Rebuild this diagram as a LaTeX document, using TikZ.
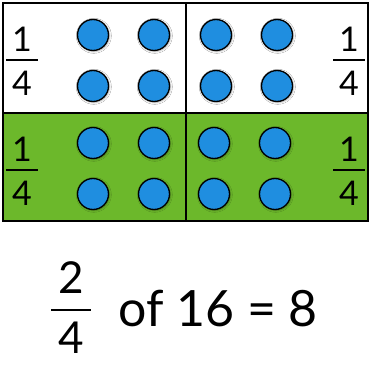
\documentclass[tikz,border=0pt]{standalone}
\usepackage{fontspec}
\setmainfont{Lato}
\usetikzlibrary{positioning,shadows.blur}
\definecolor{dotblue}{HTML}{1F8EE0}
\definecolor{quadgreen}{HTML}{6CB82B}

\begin{document}
\begin{tikzpicture}[x=1pt, y=-1pt,
  quad/.style={draw=black, line width=1.8pt, fill=#1},
  dot/.style={circle, draw=black, line width=1.3pt, fill=dotblue, minimum size=31pt, inner sep=0pt,
    blur shadow={shadow blur steps=3, shadow xshift=0.8pt, shadow yshift=-0.8pt, shadow opacity=40}},
  digit/.style={font=\fontsize{34}{34}\selectfont, inner sep=0pt},
  bigtxt/.style={font=\fontsize{50}{50}\selectfont, inner sep=0pt},
  fractxt/.style={font=\fontsize{44}{44}\selectfont, inner sep=0pt},
  bar/.style={line width=2pt}
]
  \useasboundingbox (0,0) rectangle (371,366);

  % quarters
  \draw[quad=white] (3,3) rectangle (186,113);
  \draw[quad=white] (186,3) rectangle (368,113);
  \draw[quad=quadgreen] (3,113) rectangle (186,221);
  \draw[quad=quadgreen] (186,113) rectangle (368,221);

  % counters
  \foreach \x/\n in {93/a,154/b,216/c,277/d}{
    \node[dot] (t1\n) at (\x,35) {};
    \node[dot] (t2\n) at (\x,86) {};
  }
  \foreach \x/\n in {93/a,154/b,214/c,275/d}{
    \node[dot] (b1\n) at (\x,143) {};
    \node[dot] (b2\n) at (\x,194) {};
  }

  % quarter labels
  \foreach \x/\y/\n in {22/60/tl, 349/60/tr, 22/170/bl, 349/170/br}{
    \draw[bar] (\x-16,\y) -- (\x+16,\y);
    \node[digit, anchor=south] (num\n) at (\x,\y-8) {1};
    \node[digit, anchor=north] (den\n) at (\x,\y+11) {4};
  }

  % result
  \draw[bar] (51,310) -- (91,310);
  \node[fractxt, anchor=south] (num) at (71,294) {2};
  \node[fractxt, anchor=north] (den) at (71,322) {4};
  \node[bigtxt, anchor=base west] (rest) at (118,326) {of 16 = 8};
\end{tikzpicture}
\end{document}
